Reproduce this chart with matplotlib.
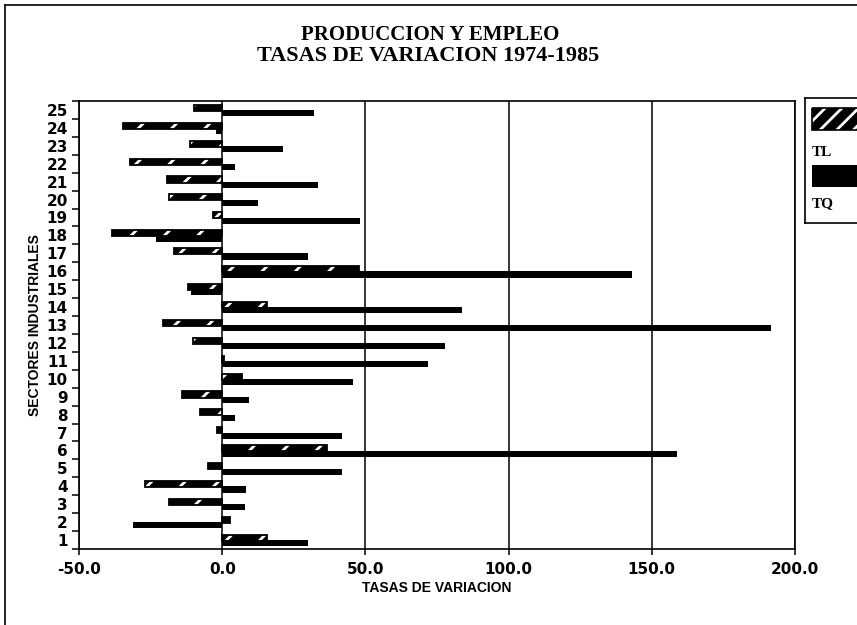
import numpy as np
import matplotlib.pyplot as plt
from matplotlib.patches import Rectangle
from matplotlib.lines import Line2D

# ---- data ----
sectores = list(range(1, 26))
tl = [15.6, 2.8, -18.5, -27.1, -5.1, 36.5, -1.7, -7.6, -13.9, 6.9,
      0.7, -10.2, -20.5, 15.6, -11.8, 47.6, -16.8, -38.5, -3.3, -18.5,
      -19.3, -32.1, -11.4, -34.7, -10.0]
tq = [30.1, -31.3, 7.8, 8.3, 42.0, 158.7, 42.0, 4.4, 9.4, 45.6,
      71.9, 77.9, 191.6, 83.7, -10.8, 143.0, 30.1, -23.2, 48.2, 12.5,
      33.6, 4.5, 21.1, -2.1, 32.2]
series_names = ["TL", "TQ"]
x_ticks = [-50, 0, 50, 100, 150, 200]

plt.rcParams['hatch.linewidth'] = 2.0

W, H = 857, 625
fig = plt.figure(figsize=(W / 100, H / 100), dpi=100)

# outer frame (top and left edge of the page)
fig.add_artist(Line2D([5 / W, 1], [1 - 5 / H, 1 - 5 / H], color='black', lw=1.2))
fig.add_artist(Line2D([5 / W, 5 / W], [0, 1 - 5 / H], color='black', lw=1.2))

ax = fig.add_axes([79 / W, 1 - 549 / H, (795 - 79) / W, (549 - 101) / H])

y = np.array(sectores, dtype=float)
h = 0.34
# TL: black with white slashes, black outline
ax.barh(y + 0.12, tl, height=h, color='black', edgecolor='white',
        hatch='/', linewidth=0, zorder=3)
ax.barh(y + 0.12, tl, height=h, fill=False, edgecolor='black',
        linewidth=1.3, zorder=4)
# TQ: solid black
ax.barh(y - 0.18, tq, height=h, color='black', linewidth=0, zorder=3)

ax.set_xlim(-50, 200)
ax.set_ylim(0.5, 25.5)
ax.set_xticks(x_ticks)
ax.set_xticklabels([f"{v:.1f}" for v in x_ticks])
ax.set_yticks(y)
ax.set_yticklabels([str(s) for s in sectores])
ax.set_yticks(np.arange(0.5, 26, 1.0), minor=True)
ax.tick_params(axis='y', which='major', length=0, pad=8)
ax.tick_params(axis='y', which='minor', length=5, width=1.1, direction='out')
ax.tick_params(axis='x', length=4, width=1.1, direction='out', pad=5)
for lab in ax.get_xticklabels() + ax.get_yticklabels():
    lab.set_fontfamily('DejaVu Sans')
    lab.set_fontweight('bold')
    lab.set_fontsize(11)

ax.xaxis.grid(True, color='black', lw=1.1)
ax.set_axisbelow(True)
for s in ax.spines.values():
    s.set_linewidth(1.2)

ax.set_xlabel("TASAS DE VARIACION", family='Liberation Sans',
              fontweight='bold', fontsize=10, labelpad=3)
ax.set_ylabel("SECTORES INDUSTRIALES", family='Liberation Sans',
              fontweight='bold', fontsize=10, labelpad=3)

fig.text(430 / W, 1 - 35 / H, "PRODUCCION Y EMPLEO", ha='center', va='center',
         family='Liberation Serif', fontweight='bold', fontsize=15)
fig.text(428 / W, 1 - 56 / H, "TASAS DE VARIACION 1974-1985", ha='center',
         va='center', family='Liberation Serif', fontweight='bold', fontsize=16)

# legend box, partly cut by the right edge
lg = fig.add_axes([805 / W, 1 - 223 / H, 62 / W, 125 / H])
lg.set_xlim(0, 62)
lg.set_ylim(125, 0)
lg.set_xticks([])
lg.set_yticks([])
for s in lg.spines.values():
    s.set_linewidth(1.2)
lg.add_patch(Rectangle((7, 10), 52, 22, facecolor='black', edgecolor='white',
                       hatch='//', linewidth=0))
lg.add_patch(Rectangle((7, 10), 52, 22, fill=False, edgecolor='black', linewidth=1.2))
lg.text(7, 54, series_names[0], ha='left', va='center', family='Liberation Serif',
        fontweight='bold', fontsize=11)
lg.add_patch(Rectangle((7, 67), 52, 22, facecolor='black', linewidth=0))
lg.text(7, 106, series_names[1], ha='left', va='center', family='Liberation Serif',
        fontweight='bold', fontsize=11)

fig.savefig("out.png", dpi=100)
